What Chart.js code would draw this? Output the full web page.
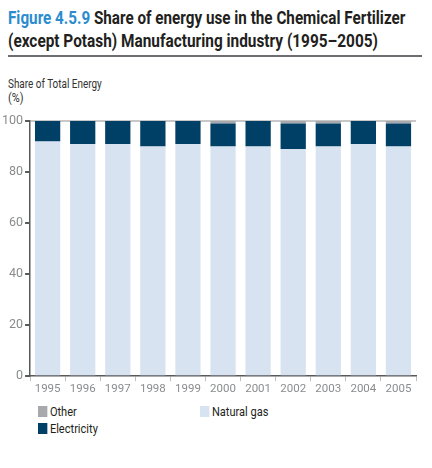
<!DOCTYPE html>
<html>
<head>
<meta charset="utf-8">
<script src="https://cdn.jsdelivr.net/npm/chart.js@4"></script>
<style>
  html, body { margin: 0; padding: 0; background: #fff; }
  body { width: 432px; height: 468px; position: relative; overflow: hidden; font-family: Roboto, sans-serif; }
  .line { position: absolute; left: 8px; white-space: nowrap; transform-origin: 0 0; }
  .t { font-size: 19px; font-weight: bold; color: #231f20; line-height: 22px; }
  .t span { color: #2b8ccf; }
  #rule { position: absolute; left: 8px; top: 55px; width: 414px; height: 2px; background: #6d6e71; }
  .yt { font-size: 13px; line-height: 14px; color: #333; }
  #wrap { position: absolute; left: 0; top: 104px; width: 432px; height: 293px; }
  .item { position: absolute; white-space: nowrap; font-size: 13px; color: #231f20; transform-origin: 0 0; }
  .box { display: inline-block; width: 11px; height: 11px; vertical-align: -1px; margin-right: 3px; }
</style>
</head>
<body>
<div class="line t" style="top:7px" data-w="397"><span>Figure 4.5.9</span> Share of energy use in the Chemical Fertilizer</div>
<div class="line t" style="top:30px" data-w="370">(except Potash) Manufacturing industry (1995–2005)</div>
<div id="rule"></div>
<div class="line yt" style="top:77px" data-w="94">Share of Total Energy</div>
<div class="line yt" style="top:91px" data-w="16">(%)</div>
<div id="wrap"><canvas id="chart"></canvas></div>
<div id="legend"></div>
<script>
const years = ['1995','1996','1997','1998','1999','2000','2001','2002','2003','2004','2005'];
const naturalGas = [92, 91, 91, 90, 91, 90, 90, 89, 90, 91, 90];
const electricity = [8, 9, 9, 10, 9, 9, 10, 10, 9, 9, 9];
const other = [0, 0, 0, 0, 0, 1, 0, 1, 1, 0, 1];
const yTicks = [0, 20, 40, 60, 80, 100];

const colors = { gas: '#d8e3f1', elec: '#003f66', other: '#a7a9ac' };
const tickFont = { family: 'Roboto', size: 11.5 };

const datasets = [
    { label: 'Natural gas', data: naturalGas, backgroundColor: colors.gas },
    { label: 'Electricity', data: electricity, backgroundColor: colors.elec },
    { label: 'Other', data: other, backgroundColor: colors.other }
];

new Chart(document.getElementById('chart'), {
    type: 'bar',
    data: { labels: years, datasets: datasets },
    options: {
        responsive: true,
        maintainAspectRatio: false,
        animation: false,
        layout: { padding: { left: 0, right: 16, top: 17, bottom: 0 } },
        datasets: { bar: { barPercentage: 0.72, categoryPercentage: 1 } },
        plugins: { legend: { display: false }, tooltip: { enabled: false } },
        scales: {
            x: {
                stacked: true,
                border: { color: '#58595b', width: 1.5 },
                grid: { drawOnChartArea: false, offset: true, tickLength: 5, tickColor: '#c0c0c0' },
                ticks: { color: '#8a8c8e', font: tickFont, padding: 1, maxRotation: 0, autoSkip: false }
            },
            y: {
                stacked: true,
                min: 0, max: 100,
                afterBuildTicks: axis => { axis.ticks = yTicks.map(v => ({ value: v })); },
                border: { color: '#58595b', width: 1.5 },
                grid: {
                    tickLength: 5,
                    tickColor: '#58595b',
                    color: ctx => ctx.tick && ctx.tick.value === 100 ? '#c8c8c8' : 'transparent',
                    lineWidth: 2
                },
                ticks: { color: '#8a8c8e', font: { family: 'Roboto', size: 12.5 }, padding: 2 }
            }
        }
    }
});

// legend in two columns, like the original
const legendItems = [
    { ds: 2, left: 38, top: 404 },
    { ds: 0, left: 200, top: 404 },
    { ds: 1, left: 38, top: 421 }
];
const legend = document.getElementById('legend');
legendItems.forEach(it => {
    const d = datasets[it.ds];
    const el = document.createElement('div');
    el.className = 'item';
    el.style.left = it.left + 'px';
    el.style.top = it.top + 'px';
    el.innerHTML = `<span class="box" style="background:${d.backgroundColor}"></span>${d.label}`;
    legend.appendChild(el);
    el.style.transform = 'scaleX(0.85)';
});

// squeeze the html text to the narrow widths of the original
document.querySelectorAll('.line').forEach(el => {
    const target = Number(el.dataset.w);
    el.style.transform = `scaleX(${target / el.scrollWidth})`;
});
</script>
</body>
</html>
